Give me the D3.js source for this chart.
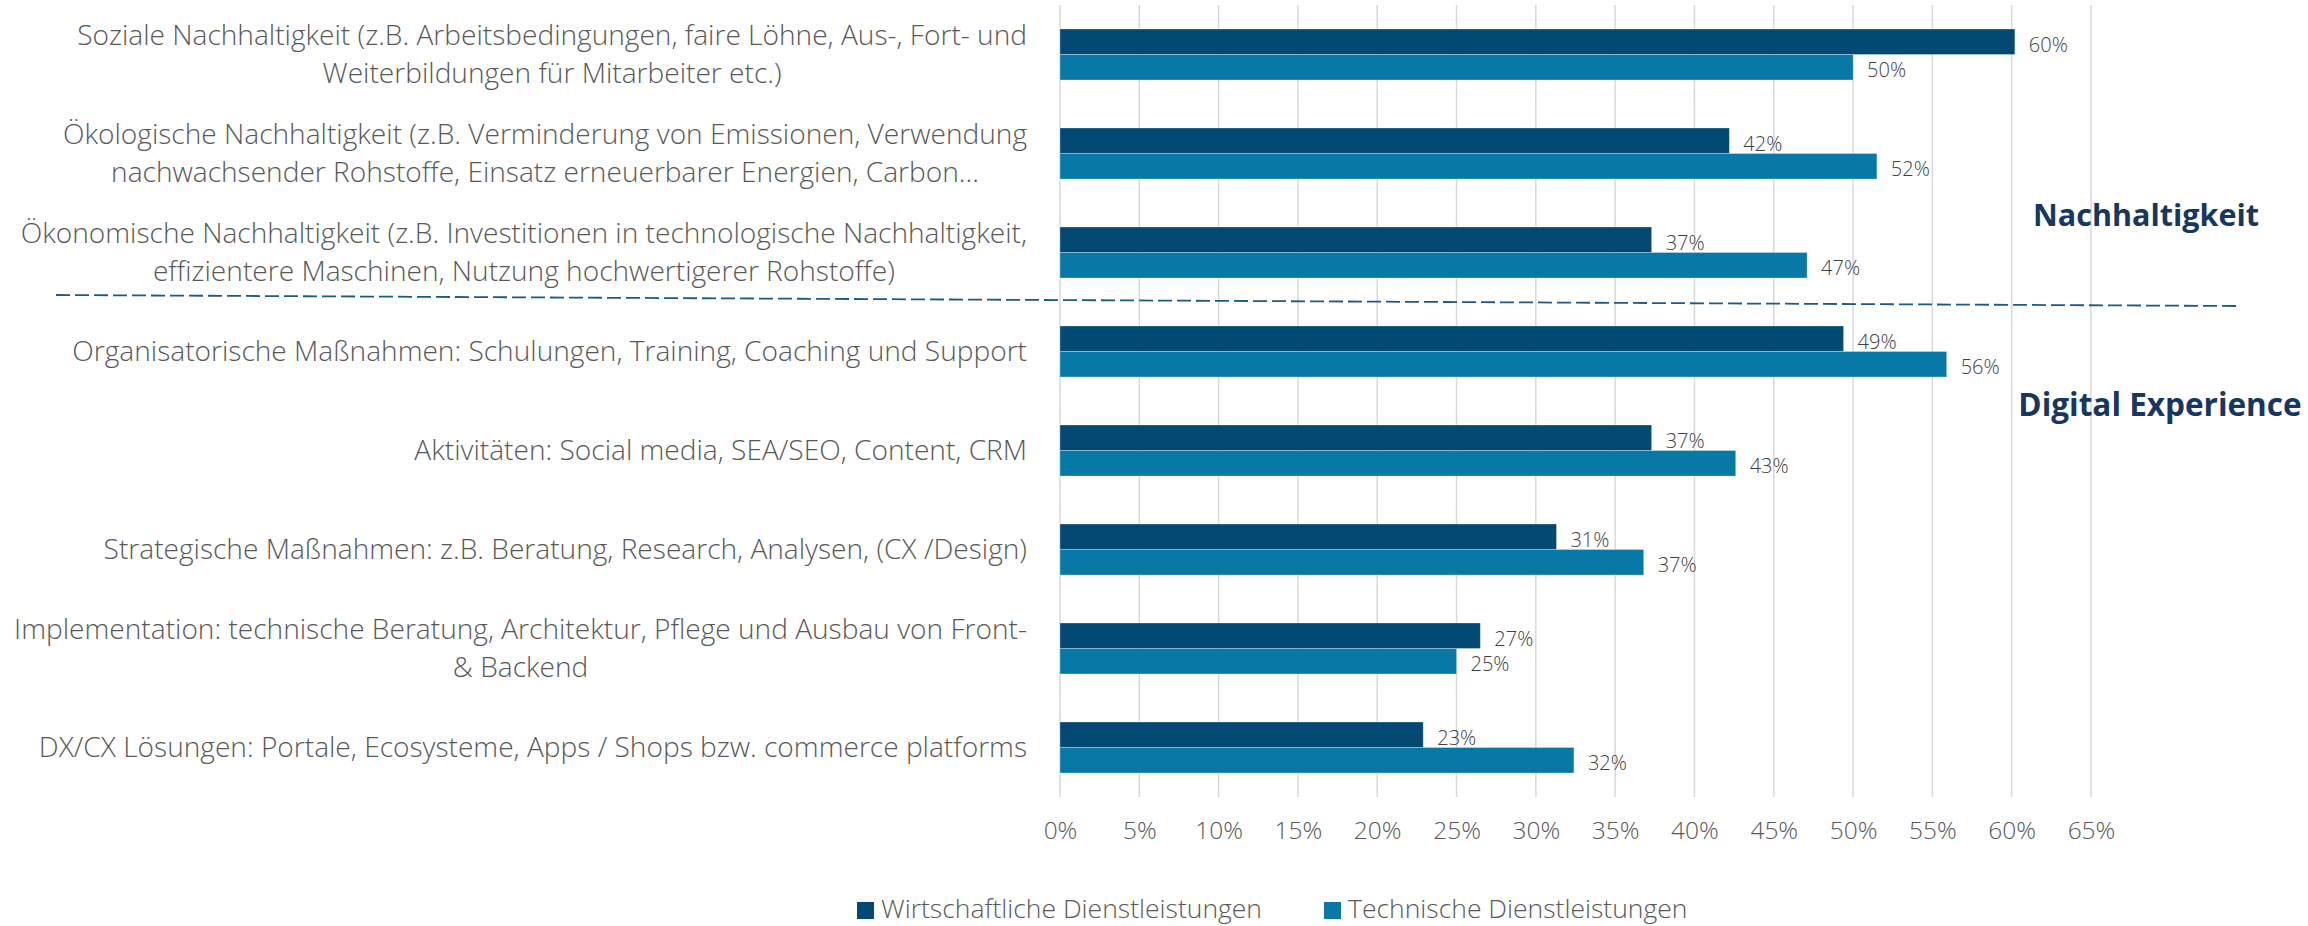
<!DOCTYPE html>
<html>
<head>
<meta charset="utf-8">
<script src="https://cdn.jsdelivr.net/npm/d3@7"></script>
<style>
  html, body { margin: 0; padding: 0; background: #fff; }
  svg { display: block; }
</style>
</head>
<body>
<div id="chart"></div>
<script>
// categories, top to bottom (each entry = label lines)
var categories = [
  ['Soziale Nachhaltigkeit (z.B. Arbeitsbedingungen, faire Löhne, Aus-, Fort- und', 'Weiterbildungen für Mitarbeiter etc.)'],
  ['Ökologische Nachhaltigkeit (z.B. Verminderung von Emissionen, Verwendung', 'nachwachsender Rohstoffe, Einsatz erneuerbarer Energien, Carbon...'],
  ['Ökonomische Nachhaltigkeit (z.B. Investitionen in technologische Nachhaltigkeit,', 'effizientere Maschinen, Nutzung hochwertigerer Rohstoffe)'],
  ['Organisatorische Maßnahmen: Schulungen, Training, Coaching und Support'],
  ['Aktivitäten: Social media, SEA/SEO, Content, CRM'],
  ['Strategische Maßnahmen: z.B. Beratung, Research, Analysen, (CX /Design)'],
  ['Implementation: technische Beratung, Architektur, Pflege und Ausbau von Front-', '& Backend'],
  ['DX/CX Lösungen: Portale, Ecosysteme, Apps / Shops bzw. commerce platforms']
];
var seriesNames = ['Wirtschaftliche Dienstleistungen', 'Technische Dienstleistungen'];
var wirtschaftlich = [60.2, 42.2, 37.3, 49.4, 37.3, 31.3, 26.5, 22.9];
var technisch = [50.0, 51.5, 47.1, 55.9, 42.6, 36.8, 25.0, 32.4];
var xTicks = [0, 5, 10, 15, 20, 25, 30, 35, 40, 45, 50, 55, 60, 65];
var groupLabels = ['Nachhaltigkeit', 'Digital Experience'];

(function () {
  'use strict';

  var COLOR_DARK = '#024a73',
    COLOR_LIGHT = '#0879a7',
    COLOR_GRID = '#d9d9d9',
    COLOR_TEXT = '#595959',
    COLOR_VALUE = '#404040',
    COLOR_GROUP = '#17375e',
    FONT = '"Open Sans", "Noto Sans", sans-serif',
    W = 2308, H = 926;

  var svg = d3.select('#chart').append('svg').attr('width', W).attr('height', H);

  var keys = categories.map(function (c, i) { return i; });
  var values = [wirtschaftlich, technisch];
  var colors = [COLOR_DARK, COLOR_LIGHT];

  var x = d3.scaleLinear().domain([0, 65]).range([1060, 2091]);
  var y0 = d3.scaleBand().domain(keys).range([5, 797]).paddingInner(0.485).paddingOuter(0.2425);
  var y1 = d3.scaleBand().domain([0, 1]).range([0, y0.bandwidth()]);

  // gridlines
  svg.append('g').selectAll('line').data(xTicks).join('line')
    .attr('x1', function (d) { return x(d); })
    .attr('x2', function (d) { return x(d); })
    .attr('y1', 5).attr('y2', 797)
    .attr('stroke', COLOR_GRID).attr('stroke-width', 1.5);

  // x axis tick labels
  var xAxis = d3.axisBottom(x).tickValues(xTicks).tickSize(0).tickPadding(0)
    .tickFormat(function (d) { return d + '%'; });
  var gx = svg.append('g').attr('transform', 'translate(0,821)').call(xAxis);
  gx.select('.domain').remove();
  gx.selectAll('text').attr('font-family', FONT).attr('font-size', 24.5).attr('font-weight', 300)
    .attr('fill', COLOR_TEXT).attr('dy', '0.75em');

  // bars
  var groups = svg.append('g').selectAll('g').data(keys).join('g')
    .attr('transform', function (d) { return 'translate(0,' + y0(d) + ')'; });

  groups.selectAll('rect').data(function (d) { return [0, 1].map(function (s) { return {s: s, v: values[s][d]}; }); })
    .join('rect')
    .attr('x', x(0))
    .attr('y', function (d) { return y1(d.s); })
    .attr('width', function (d) { return x(d.v) - x(0); })
    .attr('height', y1.bandwidth())
    .attr('fill', function (d) { return colors[d.s]; })
    .attr('stroke', '#ffffff').attr('stroke-opacity', 0.35).attr('stroke-width', 0.8);

  groups.selectAll('text').data(function (d) { return [0, 1].map(function (s) { return {s: s, v: values[s][d]}; }); })
    .join('text')
    .attr('x', function (d) { return x(d.v) + 14; })
    .attr('y', function (d) { return y1(d.s) + y1.bandwidth() / 2 + 3; })
    .attr('dy', '0.35em')
    .attr('font-family', FONT).attr('font-size', 20).attr('font-weight', 300)
    .attr('fill', COLOR_VALUE)
    .text(function (d) { return Math.round(d.v) + '%'; });

  // category labels: lines centred on each other, block right-aligned
  var LINE_H = 38, LABEL_RIGHT = 1027;
  keys.forEach(function (k) {
    var lines = categories[k];
    var cy = y0(k) + y0.bandwidth() / 2;
    var g = svg.append('g');
    lines.forEach(function (line, i) {
      g.append('text')
        .attr('x', 0)
        .attr('y', cy + (i - (lines.length - 1) / 2) * LINE_H)
        .attr('dy', '0.35em')
        .attr('text-anchor', 'middle')
        .attr('font-family', FONT).attr('font-size', 28.1).attr('font-weight', 300)
        .attr('fill', COLOR_TEXT)
        .text(line);
    });
    var maxW = d3.max(g.selectAll('text').nodes(), function (n) { return n.getComputedTextLength(); });
    g.attr('transform', 'translate(' + (LABEL_RIGHT - maxW / 2) + ',0)');
  });

  // dashed separator
  svg.append('line')
    .attr('x1', 56).attr('y1', 295).attr('x2', 2237).attr('y2', 306)
    .attr('stroke', '#1d5a86').attr('stroke-width', 1.8)
    .attr('stroke-dasharray', '14,5');

  // group labels
  svg.append('text').attr('x', 2146).attr('y', 215).attr('dy', '0.35em')
    .attr('text-anchor', 'middle').attr('font-family', FONT).attr('font-size', 30.5).attr('font-weight', 700)
    .attr('fill', COLOR_GROUP).text(groupLabels[0]);
  svg.append('text').attr('x', 2160).attr('y', 405).attr('dy', '0.35em')
    .attr('text-anchor', 'middle').attr('font-family', FONT).attr('font-size', 31.5).attr('font-weight', 700)
    .attr('fill', COLOR_GROUP).text(groupLabels[1]);

  // legend
  var lx = 857;
  seriesNames.forEach(function (name, i) {
    svg.append('rect').attr('x', lx).attr('y', 902).attr('width', 17).attr('height', 17).attr('fill', colors[i]);
    var t = svg.append('text').attr('x', lx + 24).attr('y', 909).attr('dy', '0.35em')
      .attr('font-family', FONT).attr('font-size', 26.5).attr('font-weight', 300)
      .attr('fill', COLOR_TEXT).text(name);
    lx += 24 + t.node().getComputedTextLength() + 62;
  });
})();
</script>
</body>
</html>
